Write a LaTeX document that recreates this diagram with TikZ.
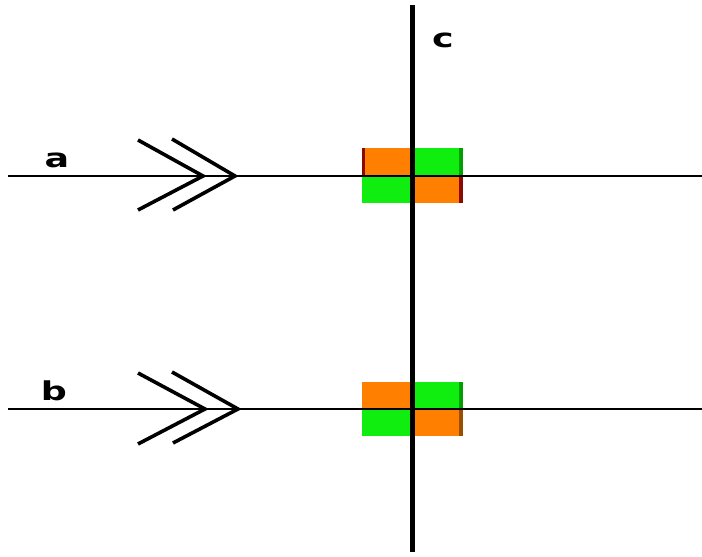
\documentclass[tikz,border=0pt]{standalone}
\usepackage{fontspec}
\setmainfont{DejaVu Sans}
\begin{document}
\begin{tikzpicture}[x=1pt,y=-1pt,
  lbl/.style={font=\bfseries\fontsize{26}{26}\selectfont, inner sep=0pt, text=black, xscale=1.4},
  chev/.style={line width=3.6pt, line join=miter, line cap=butt},
  orangecell/.style={fill=cellorange},
  greencell/.style={fill=cellgreen}]
\definecolor{cellorange}{HTML}{FF8000}
\definecolor{cellgreen}{HTML}{10EE10}
\definecolor{edgered}{HTML}{8A0A00}
\definecolor{edgegreen}{HTML}{00A000}
\definecolor{edgebrown}{HTML}{985000}
\useasboundingbox[fill=white] (0,0) rectangle (702,557);

% line ends
\coordinate (aL) at (8,176);   \coordinate (aR) at (702,176);
\coordinate (bL) at (8,409);   \coordinate (bR) at (702,409);
\coordinate (cT) at (412,5);   \coordinate (cB) at (412,552);

% crossing blocks on line a
\fill[orangecell] (362,148) rectangle (412,176);
\fill[greencell]  (412,148) rectangle (463,176);
\fill[greencell]  (362,176) rectangle (412,203);
\fill[orangecell] (412,176) rectangle (463,203);
\fill[edgered]    (362,148) rectangle (365,176);
\fill[edgegreen]  (459,148) rectangle (463,176);
\fill[edgered]    (459,176) rectangle (463,203);

% crossing blocks on line b
\fill[orangecell] (362,382) rectangle (412,409);
\fill[greencell]  (412,382) rectangle (463,409);
\fill[greencell]  (362,409) rectangle (412,436);
\fill[orangecell] (412,409) rectangle (463,436);
\fill[edgegreen]  (459,382) rectangle (463,409);
\fill[edgebrown]  (459,409) rectangle (463,436);

% rails
\draw[line width=1.3pt] (aL) -- (aR);
\draw[line width=2.4pt] (bL) -- (bR);
\draw[line width=5pt] (cT) -- (cB);

% double chevrons showing direction
\draw[chev] (138,140) -- (203,176) -- (138,210);
\draw[chev] (172,139) -- (235,176) -- (173,210);
\draw[chev] (138,373) -- (205,409) -- (138,444);
\draw[chev] (172,372) -- (238,409) -- (173,443);

% labels
\node[lbl, anchor=base] (la) at (57,167) {a};
\node[lbl, anchor=base] (lb) at (54,400) {b};
\node[lbl, anchor=base] (lc) at (443,47) {c};
\end{tikzpicture}
\end{document}
